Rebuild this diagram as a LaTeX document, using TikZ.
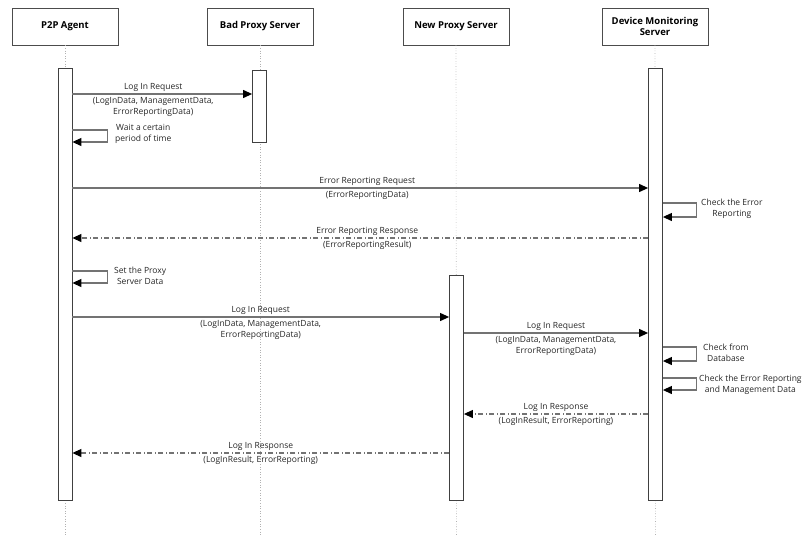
\documentclass[tikz,border=0pt]{standalone}
\usepackage{fontspec}
\setmainfont{Open Sans}
\usetikzlibrary{arrows.meta,positioning}
\tikzset{
    actor/.style={draw=black!70,line width=0.8pt,minimum width=106pt,minimum height=37pt,
        align=center,inner sep=1pt,font=\bfseries\fontsize{9.5}{11.5}\selectfont},
    actbar/.style={draw=black!75,line width=0.8pt,fill=white,minimum width=14pt,inner sep=0pt},
    lifeline/.style={draw=black!30,dotted,line width=0.6pt},
    msg/.style={draw=black!55,line width=1.1pt,-{Triangle[length=9pt,width=8pt,black]}},
    reply/.style={msg,dash pattern=on 5pt off 2.5pt on 1pt off 2.5pt},
    txt/.style={font=\fontsize{8.5}{10.5}\selectfont,align=center,inner sep=1pt,text=black!85},
}
\begin{document}
\begin{tikzpicture}[x=1pt,y=-1pt]
\useasboundingbox (0,0) rectangle (809,536);
% actors
\node[actor] (agent) at (65,26.5) {P2P Agent};
\node[actor] (badproxy) at (260,26.5) {Bad Proxy Server};
\node[actor] (newproxy) at (456,26.5) {New Proxy Server};
\node[actor] (monitor) at (655,26.5) {Device Monitoring\\Server};
% lifelines
\draw[lifeline] (agent.south) -- (65,536);
\draw[lifeline] (badproxy.south) -- (260,536);
\draw[lifeline] (newproxy.south) -- (456.5,536);
\draw[lifeline] (monitor.south) -- (655.5,536);
% activation bars
\node[actbar,minimum height=432pt] (agentbar) at (65,284) {};
\node[actbar,minimum height=72pt] (badbar) at (259.5,106) {};
\node[actbar,minimum height=432pt] (monitorbar) at (655.5,284) {};
\node[actbar,minimum height=225pt] (newbar) at (456.5,387.5) {};
% messages
\draw[msg] (agentbar.east |- 0,94) -- (badbar.west |- 0,94)
    node[txt,midway,above=1pt,xshift=-9pt] (req1) {Log In Request}
    node[txt,midway,below=2pt,xshift=-9pt] (req1data) {(LogInData, ManagementData,\\ErrorReportingData)};
\draw[msg] (agentbar.east |- 0,130) -- ++(35,0) -- ++(0,12) -- (agentbar.east |- 0,142);
\node[txt,anchor=west] (wait) at (114,134) {Wait a certain\\period of time};
\draw[msg] (agentbar.east |- 0,188) -- (monitorbar.west |- 0,188)
    node[txt,midway,above=1pt,xshift=7pt] (errreq) {Error Reporting Request}
    node[txt,midway,below=2pt,xshift=7pt] (errreqdata) {(ErrorReportingData)};
\draw[msg] (monitorbar.east |- 0,203) -- ++(34,0) -- ++(0,14) -- (monitorbar.east |- 0,217);
\node[txt,anchor=west] (checkerr) at (700,209) {Check the Error\\Reporting};
\draw[reply] (monitorbar.west |- 0,238) -- (agentbar.east |- 0,238)
    node[txt,midway,above=1pt,xshift=7pt] (errres) {Error Reporting Response}
    node[txt,midway,below=1pt,xshift=7pt] (errresdata) {(ErrorReportingResult)};
\draw[msg] (agentbar.east |- 0,271) -- ++(35,0) -- ++(0,12) -- (agentbar.east |- 0,283);
\node[txt,anchor=west] (setproxy) at (113,276) {Set the Proxy\\Server Data};
\draw[msg] (agentbar.east |- 0,317) -- (newbar.west |- 0,317)
    node[txt,midway,above=1pt] (req2) {Log In Request}
    node[txt,midway,below=2pt] (req2data) {(LogInData, ManagementData,\\ErrorReportingData)};
\draw[msg] (newbar.east |- 0,333) -- (monitorbar.west |- 0,333)
    node[txt,midway,above=1pt] (req3) {Log In Request}
    node[txt,midway,below=2pt] (req3data) {(LogInData, ManagementData,\\ErrorReportingData)};
\draw[msg] (monitorbar.east |- 0,347) -- ++(34,0) -- ++(0,14) -- (monitorbar.east |- 0,361);
\node[txt,anchor=west] (checkdb) at (702,353) {Check from\\Database};
\draw[msg] (monitorbar.east |- 0,378) -- ++(34,0) -- ++(0,12) -- (monitorbar.east |- 0,390);
\node[txt,anchor=west] (checkmgmt) at (698,385) {Check the Error Reporting\\and Management Data};
\draw[reply] (monitorbar.west |- 0,414) -- (newbar.east |- 0,414)
    node[txt,midway,above=1pt] (res1) {Log In Response}
    node[txt,midway,below=1pt] (res1data) {(LogInResult, ErrorReporting)};
\draw[reply] (newbar.west |- 0,453) -- (agentbar.east |- 0,453)
    node[txt,midway,above=1pt] (res2) {Log In Response}
    node[txt,midway,below=1pt] (res2data) {(LogInResult, ErrorReporting)};
\end{tikzpicture}
\end{document}
